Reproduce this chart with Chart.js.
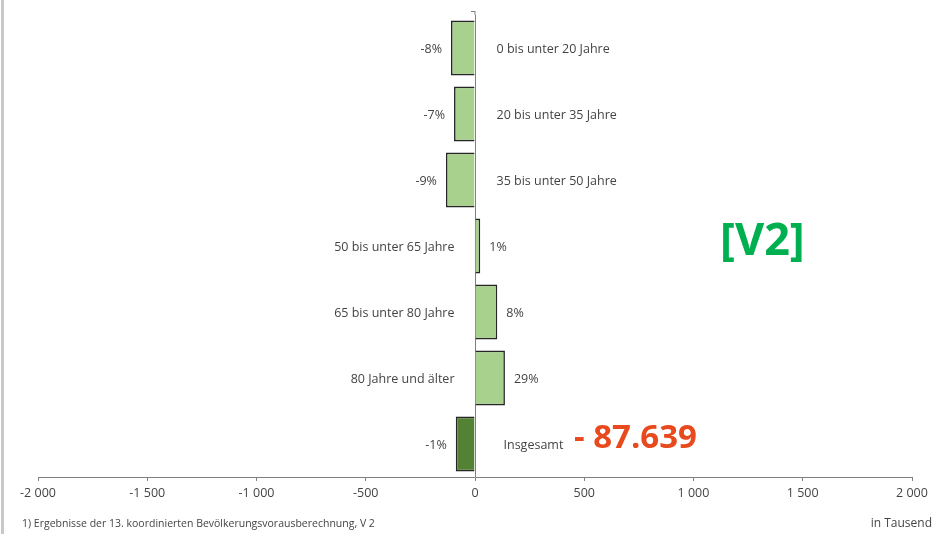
<!DOCTYPE html>
<html>
<head>
<meta charset="utf-8">
<script src="https://cdn.jsdelivr.net/npm/chart.js@4"></script>
<style>
    html, body { margin: 0; padding: 0; background: #fff; }
    #wrap { width: 935px; height: 534px; position: relative; }
</style>
</head>
<body>
<div id="wrap"><canvas id="popChart"></canvas></div>
<script>
const categories = [
    '0 bis unter 20 Jahre',
    '20 bis unter 35 Jahre',
    '35 bis unter 50 Jahre',
    '50 bis unter 65 Jahre',
    '65 bis unter 80 Jahre',
    '80 Jahre und älter',
    'Insgesamt'
];
const changeThousands = [-110, -96, -133, 24, 102, 137, -88];
const percentLabels = ['-8%', '-7%', '-9%', '1%', '8%', '29%', '-1%'];
const xTicks = [-2000, -1500, -1000, -500, 0, 500, 1000, 1500, 2000];

const COLORS = {
    bar: '#A9D18E',
    total: '#548235',
    edge: '#262626',
    text: '#444444',
    axis: '#808080',
    v2: '#00B050',
    totalNote: '#E8491D'
};
const FONT = "'Open Sans', sans-serif";

function fmtThousands(v) {
    const s = Math.abs(v).toString().replace(/\B(?=(\d{3})+(?!\d))/g, ' ');
    return (v < 0 ? '-' : '') + s;
}

// labels next to the bars + the extra notes on the slide
const labelPlugin = {
    id: 'barLabels',
    afterDatasetsDraw(chart) {
        const ctx = chart.ctx;
        const meta = chart.getDatasetMeta(0);
        ctx.save();
        ctx.font = '12.5px ' + FONT;
        ctx.fillStyle = COLORS.text;
        ctx.textBaseline = 'middle';
        meta.data.forEach((bar, i) => {
            const v = changeThousands[i];
            const y = bar.y + 1;
            if (v < 0) {
                ctx.textAlign = 'right';
                ctx.fillText(percentLabels[i], bar.x - 9, y);
                ctx.textAlign = 'left';
                ctx.fillText(categories[i], bar.base + (i === 6 ? 29 : 22), y);
            } else {
                ctx.textAlign = 'right';
                ctx.fillText(categories[i], bar.base - 21, y);
                ctx.textAlign = 'left';
                ctx.fillText(percentLabels[i], bar.x + 9, y);
            }
        });

        // zero line reaches a bit above the plot
        const x0 = chart.scales.x.getPixelForValue(0);
        ctx.fillStyle = COLORS.axis;
        ctx.fillRect(Math.round(x0) - 0.5, 11, 1, chart.chartArea.top - 11);
        ctx.fillRect(Math.round(x0) - 4, 11, 4, 1);

        // left frame line
        ctx.fillStyle = '#C8C8C8';
        ctx.fillRect(1, 0, 3, chart.height);

        // footnote + unit
        ctx.fillStyle = COLORS.text;
        ctx.font = '10.5px ' + FONT;
        ctx.textAlign = 'left';
        ctx.fillText('1) Ergebnisse der 13. koordinierten Bevölkerungsvorausberechnung, V 2', 22, 524);
        ctx.textAlign = 'right';
        ctx.font = '12px ' + FONT;
        ctx.fillText('in Tausend', 932, 524);

        // big notes
        ctx.textAlign = 'left';
        ctx.font = 'bold 45px ' + FONT;
        ctx.fillStyle = COLORS.v2;
        ctx.fillText('[V2]', 720, 242);
        ctx.font = 'bold 33px ' + FONT;
        ctx.fillStyle = COLORS.totalNote;
        ctx.fillText('- 87.639', 574, 439);
        ctx.restore();
    }
};

new Chart(document.getElementById('popChart'), {
    type: 'bar',
    data: {
        labels: categories,
        datasets: [{
            data: changeThousands,
            backgroundColor: changeThousands.map((v, i) => i === categories.length - 1 ? COLORS.total : COLORS.bar),
            borderColor: COLORS.edge,
            borderWidth: 1.6,
            barPercentage: 0.83,
            categoryPercentage: 1
        }]
    },
    options: {
        indexAxis: 'y',
        responsive: true,
        maintainAspectRatio: false,
        animation: false,
        layout: {
            padding: { left: 38, right: 23, top: 15, bottom: 28 }
        },
        plugins: {
            legend: { display: false },
            tooltip: { enabled: false }
        },
        scales: {
            y: {
                display: false
            },
            x: {
                min: -2000,
                max: 2000,
                afterBuildTicks(scale) {
                    scale.ticks = xTicks.map(v => ({ value: v }));
                },
                border: { display: true, color: COLORS.axis, width: 1 },
                grid: {
                    color: c => c.tick && c.tick.value === 0 ? COLORS.axis : 'transparent',
                    tickColor: COLORS.axis,
                    tickLength: 4,
                    drawOnChartArea: true
                },
                ticks: {
                    color: COLORS.text,
                    padding: 5,
                    font: { family: FONT, size: 12.5 },
                    callback: v => fmtThousands(v)
                }
            }
        }
    },
    plugins: [labelPlugin]
});
</script>
</body>
</html>
